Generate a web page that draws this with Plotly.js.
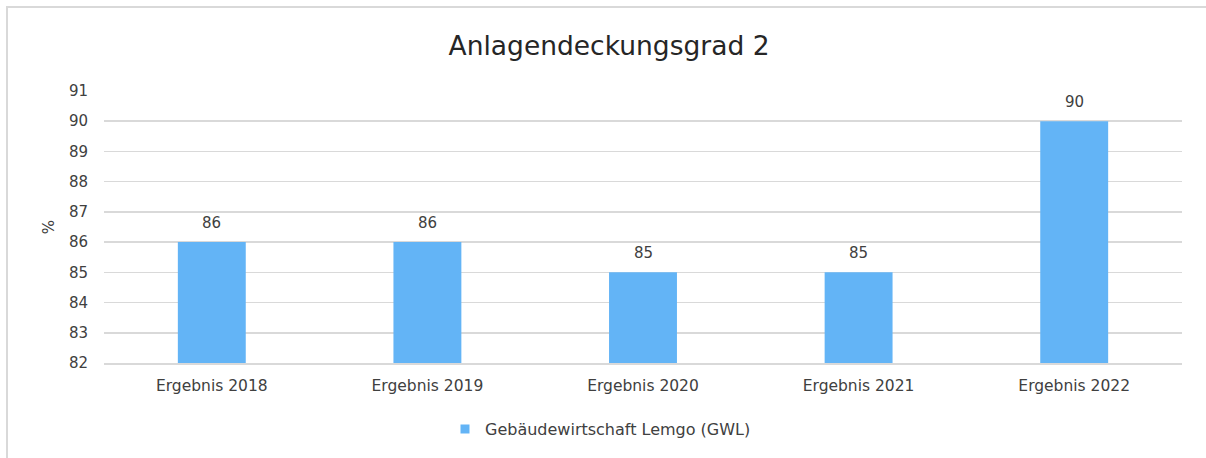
<!DOCTYPE html>
<html>
<head>
<meta charset="utf-8">
<script src="https://cdn.plot.ly/plotly-3.0.1.min.js"></script>
<style>
  html, body { margin: 0; padding: 0; background: #fff; }
  #wrap { position: relative; width: 1206px; height: 458px; }
  #chart { width: 1206px; height: 458px; }
  #frame { position: absolute; left: 6px; top: 6px; width: 1200px; height: 452px;
           border-left: 2px solid #d9d9d9; border-top: 2px solid #d9d9d9; pointer-events: none; box-sizing: border-box; }
</style>
</head>
<body>
<div id="wrap">
  <div id="chart"></div>
  <div id="frame"></div>
</div>
<script>
const categories = ["Ergebnis 2018", "Ergebnis 2019", "Ergebnis 2020", "Ergebnis 2021", "Ergebnis 2022"];
const values = [86, 86, 85, 85, 90];
const seriesName = "Gebäudewirtschaft Lemgo (GWL)";
const chartTitle = "Anlagendeckungsgrad 2";
const yTitle = "%";

const fontFam = "DejaVu Sans, Verdana, sans-serif";
const barColor = "#63B4F6";
const textColor = "#404040";

const barTrace = {
  type: "bar",
  x: categories,
  y: values,
  name: seriesName,
  marker: { color: barColor },
  showlegend: false
};

// legend entry with a small square symbol
const legendTrace = {
  type: "scatter",
  mode: "markers",
  x: [categories[0]],
  y: [null],
  name: seriesName,
  marker: { color: barColor, symbol: "square", size: 9 },
  showlegend: true
};

const labelAnnotations = categories.map((c, i) => ({
  x: c,
  y: values[i],
  xref: "x",
  yref: "y",
  text: String(values[i]),
  showarrow: false,
  yanchor: "bottom",
  yshift: 8,
  font: { family: fontFam, size: 15, color: textColor }
}));

const layout = {
  width: 1206,
  height: 458,
  margin: { l: 104, r: 24, t: 91, b: 95 },
  paper_bgcolor: "#fff",
  plot_bgcolor: "#fff",
  font: { family: fontFam, size: 15, color: textColor },
  title: { text: chartTitle, font: { family: fontFam, size: 26.5, color: "#262626" }, x: 0.505, xanchor: "center", y: 0.9, yanchor: "middle" },
  bargap: 0.685,
  annotations: labelAnnotations,
  xaxis: {
    type: "category",
    showgrid: false,
    showline: true,
    linecolor: "#d9d9d9",
    linewidth: 2,
    ticks: "outside",
    ticklen: 7,
    tickcolor: "rgba(0,0,0,0)",
    tickfont: { family: fontFam, size: 15.5, color: textColor }
  },
  yaxis: {
    range: [82, 91],
    dtick: 1,
    showgrid: true,
    gridcolor: "#d9d9d9",
    gridwidth: 1.5,
    zeroline: false,
    showline: false,
    ticks: "outside",
    ticklen: 12,
    tickcolor: "rgba(0,0,0,0)",
    tickfont: { family: fontFam, size: 15, color: textColor },
    title: { text: yTitle, font: { family: fontFam, size: 15, color: textColor }, standoff: 10 }
  },
  showlegend: true,
  legend: {
    orientation: "h",
    x: (445 - 104) / 1078,
    xanchor: "left",
    y: -0.243,
    yanchor: "middle",
    font: { family: fontFam, size: 16, color: textColor },
    itemwidth: 30
  }
};

Plotly.newPlot("chart", [barTrace, legendTrace], layout, { displayModeBar: false, staticPlot: true });
</script>
</body>
</html>
